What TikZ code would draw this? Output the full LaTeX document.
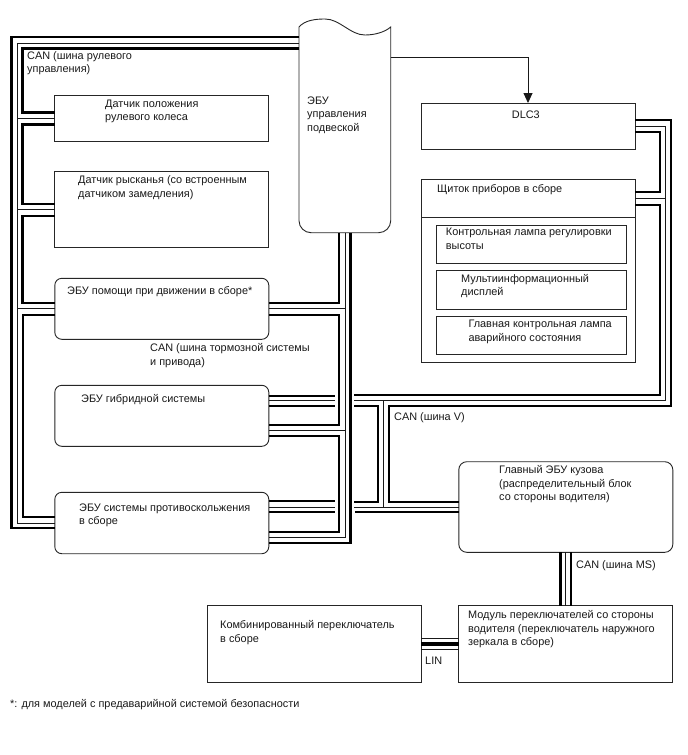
\documentclass[tikz,border=0pt]{standalone}
\usepackage{fontspec}
\setmainfont{Liberation Sans}
\usetikzlibrary{arrows.meta}

\begin{document}
\begin{tikzpicture}[
    x=1pt, y=-1pt,
    box/.style={
        draw=black!85,
        fill=white,
        line width=0.9pt,
        inner sep=0pt,
        outer sep=0pt,
        minimum width=214pt
    },
    roundbox/.style={
        box,
        rounded corners=7pt
    },
    lampbox/.style={
        box,
        minimum width=190.7pt,
        minimum height=38.3pt
    },
    lbl/.style={
        anchor=north west,
        align=left,
        inner sep=0pt,
        yshift=-2pt,
        text=black!90,
        font=\fontsize{10.9}{13.4}\selectfont,
        execute at begin node=\strut
    },
    busthick/.style={
        draw=black,
        line width=2.2pt
    },
    busthin/.style={
        draw=black!90,
        line width=0.9pt
    }
]
    \useasboundingbox (0,0) rectangle (688,755);

    % Nodes Placement

    % Left Column
    \node[box, minimum height=45.6pt] (steer) at (161.5, 118.5) {};
    \node[box, minimum height=76pt] (yaw) at (161.5, 209.7) {};
    \node[roundbox, minimum height=61pt] (assist) at (161.8, 308.8) {};
    \node[roundbox, minimum height=61pt] (hybrid) at (161.8, 415.8) {};
    \node[roundbox, minimum height=61.4pt] (skid) at (161.8, 523) {};

    % Suspension ECU (outline drawn below)
    \node[inner sep=0pt, outer sep=0pt, minimum width=91.7pt, minimum height=213.7pt] (ecu) at (344.85, 125.85) {};

    % Right Column
    \node[box, minimum height=46pt] (dlc) at (528, 126) {};
    \node[box, minimum height=183pt] (meter) at (528, 270.8) {};
    \node[lampbox] (lampheight) at (531.3, 244.2) {};
    \node[lampbox] (multidisplay) at (531.3, 289.8) {};
    \node[lampbox] (lampwarning) at (531.3, 335.5) {};
    \node[roundbox, minimum height=90.6pt, rounded corners=8pt] (body) at (565.8, 507) {};

    % Bottom Row
    \node[box, minimum height=76.6pt] (combo) at (314, 644) {};
    \node[box, minimum height=76.6pt] (module) at (565.8, 644) {};

    % Bus corners
    \coordinate (outerTL) at (11.5, 37);
    \coordinate (midTL) at (17, 43);
    \coordinate (innerTL) at (22.5, 48.5);
    \coordinate (railinner) at (339, 0);
    \coordinate (railmid) at (345, 0);
    \coordinate (railouter) at (350.5, 0);
    \coordinate (crossR) at (354, 0);
    \coordinate (vinner) at (660, 395.2);
    \coordinate (vmid) at (665.5, 400.7);
    \coordinate (vouter) at (671, 406);
    \coordinate (vloop) at (378, 502);
    \coordinate (vdrop) at (383, 507);
    \coordinate (vright) at (389, 406);
    \coordinate (ecuout) at (390.7, 57);

    % Suspension ECU outline
    \draw[box] (299,27) .. controls (305,20) and (316,19) .. (325,19)
        .. controls (340,19) and (350,35) .. (365,35)
        .. controls (375,35) and (385,32) .. (390.7,27)
        [rounded corners=12pt] -- (ecu.south east) -- (ecu.south west) [sharp corners] -- cycle;

    % Meter divider
    \draw[box] ([yshift=-38.4pt]meter.north west) -- ([yshift=-38.4pt]meter.north east);

    % Connections

    % Steering bus, left side
    \draw[busthick] (ecu.west |- outerTL) -- (outerTL) |- ([yshift=-5pt]skid.west);
    \draw[busthin] (ecu.west |- midTL) -- (midTL) |- (skid.west);
    \draw[busthick] (ecu.west |- innerTL) -- (innerTL) |- ([yshift=6pt]steer.west);
    \foreach \unit in {steer, yaw, assist}
        \draw[busthin] (midTL |- \unit.west) -- (\unit.west);
    \foreach \from/\to/\up in {steer/yaw/6, yaw/assist/6, assist/skid/6}
        \draw[busthick] ([yshift=-6pt]\from.west) -- ++(-32,0) |- ([yshift=\up pt]\to.west);

    % Brake bus, right side
    \draw[busthick] (railouter |- ecu.south) |- ([yshift=-20pt]skid.east);
    \draw[busthin] (railmid |- ecu.south) |- ([yshift=-14.7pt]skid.east);
    \draw[busthick] (railinner |- ecu.south) |- ([yshift=6pt]assist.east);
    \draw[busthin] (assist.east) -- (railmid |- assist.east);
    \draw[busthin] ([yshift=-15pt]hybrid.east) -- ++(76,0);
    \draw[busthick] ([yshift=-6pt]assist.east) -- ++(70,0) |- ([yshift=-9.5pt]hybrid.east);
    \draw[busthick] ([yshift=-20pt]hybrid.east) -- ++(70,0) |- ([yshift=-8.7pt]skid.east);

    % V bus
    \draw[busthick] ([yshift=6pt]dlc.east) -| (vouter) -- (vright) |- ([yshift=5pt]body.west);
    \draw[busthin] (dlc.east) -| (vmid) -- (crossR |- vmid);
    \draw[busthick] ([yshift=-6pt]dlc.east) -- ++(25,0) |- ([yshift=-13pt]meter.north east);
    \draw[busthin] ([yshift=-19pt]meter.north east) -- ++(30.5,0);
    \draw[busthick] ([yshift=-26pt]meter.north east) -| (vinner) -- (crossR |- vinner);
    \draw[busthick] (crossR |- vouter) -| (vloop) -- (crossR |- vloop);
    \draw[busthin] (vdrop |- vmid) -- (vdrop);
    \draw[busthin] (crossR |- body.west) -- (body.west);
    \draw[busthick] ([yshift=-5pt]body.west) -- ++(-104,0);
    \draw[busthick] ([yshift=20.2pt]hybrid.east) -- ++(66,0);
    \draw[busthin] ([yshift=15pt]hybrid.east) -- ++(66,0);
    \draw[busthick] ([yshift=10pt]hybrid.east) -- ++(66,0);
    \draw[busthick] ([yshift=22pt]skid.east) -- ++(66,0);
    \draw[busthin] ([yshift=16pt]skid.east) -- ++(66,0);
    \draw[busthick] ([yshift=11pt]skid.east) -- ++(66,0);

    % MS bus
    \draw[busthick] ([xshift=-5.3pt]body.south) -- ([xshift=-5.3pt]module.north);
    \draw[busthin] (body.south) -- (module.north);
    \draw[busthick] ([xshift=5.3pt]body.south) -- ([xshift=5.3pt]module.north);

    % LIN
    \draw[busthin] ([yshift=5.5pt]combo.east) -- ([yshift=5.5pt]module.west);
    \draw[busthick, line width=3.6pt] (combo.east) -- (module.west);
    \draw[busthin] ([yshift=-5.5pt]combo.east) -- ([yshift=-5.5pt]module.west);

    % ECU -> DLC3
    \draw[busthin, -{Stealth[length=10pt, width=9pt, inset=0pt]}] (ecuout) -| (dlc.north);

    % Labels
    \node[lbl] (canSteer) at (27, 49.5) {CAN (шина рулевого\\управления)};
    \node[lbl] (steerText) at (105, 97.5) {Датчик положения\\рулевого колеса};
    \node[lbl] (yawText) at (78, 173.5) {Датчик рысканья (со встроенным\\датчиком замедления)};
    \node[lbl] (assistText) at (67, 282.5) {ЭБУ помощи при движении в сборе*};
    \node[lbl] (canBrake) at (150, 341.5) {CAN (шина тормозной системы\\и привода)};
    \node[lbl] (hybridText) at (81, 390.5) {ЭБУ гибридной системы};
    \node[lbl] (skidText) at (79, 501.5) {ЭБУ системы противоскольжения\\в сборе};
    \node[lbl] (ecuText) at (307, 94.5) {ЭБУ\\управления\\подвеской};
    \node[lbl] (dlcText) at (511.7, 106.5) {DLC3};
    \node[lbl] (meterText) at (437, 181) {Щиток приборов в сборе};
    \node[lbl] (lampheightText) at (445.7, 226) {Контрольная лампа регулировки\\высоты};
    \node[lbl] (multiText) at (461, 272) {Мультиинформационный\\дисплей};
    \node[lbl] (warningText) at (468.3, 318) {Главная контрольная лампа\\аварийного состояния};
    \node[lbl] (canV) at (394, 408.5) {CAN (шина V)};
    \node[lbl] (bodyText) at (499, 463.5) {Главный ЭБУ кузова\\(распределительный блок\\со стороны водителя)};
    \node[lbl] (canMS) at (576, 556.5) {CAN (шина MS)};
    \node[lbl] (moduleText) at (468, 608.5) {Модуль переключателей со стороны\\водителя (переключатель наружного\\зеркала в сборе)};
    \node[lbl] (comboText) at (220, 618.5) {Комбинированный переключатель\\в сборе};
    \node[lbl] (linText) at (425, 652.5) {LIN};
    \node[lbl] (noteText) at (10, 695.5) {*: для моделей с предаварийной системой безопасности};

\end{tikzpicture}
\end{document}
